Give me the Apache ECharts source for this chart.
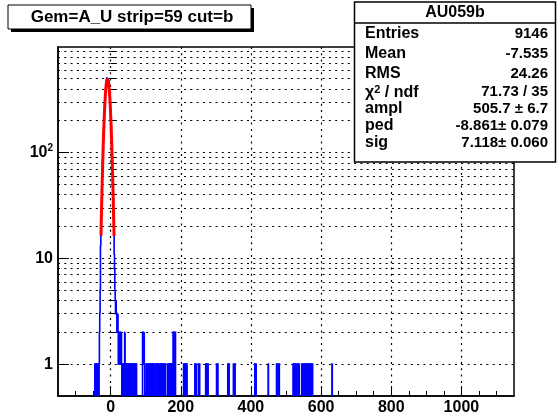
<!DOCTYPE html>
<html><head><meta charset="utf-8">
<script src="https://cdn.jsdelivr.net/npm/echarts@6/dist/echarts.min.js"></script>
<style>html,body{margin:0;padding:0;background:#fff}#c{width:558px;height:417px}</style>
</head><body><div id="c"></div>
<script>
// ---------- data ----------
const histTitle = 'Gem=A_U strip=59 cut=b';
const statsName = 'AU059b';
const statsLabels = ['Entries', 'Mean', 'RMS', 'chi2ndf', 'ampl', 'ped', 'sig'];
const statsValues = ['9146', '-7.535', '24.26', '71.73 / 35', '505.7 \u00b1 6.7', '-8.861\u00b1 0.079', '7.118\u00b1 0.060'];
const fitAmpl = 505.7, fitPed = -8.861, fitSig = 7.118;
const fitRange = [-27.5, 9.8];
const xRange = [-150, 1150];
const yRange = [0.5, 994];
const binWidth = 1;
const xMajorTicks = [0, 200, 400, 600, 800, 1000];
const xMinorTicks = [-100, -50, 50, 100, 150, 250, 300, 350, 450, 500, 550, 650, 700, 750, 850, 900, 950, 1050, 1100];
const yMajorTicks = [1, 10, 100];
const yMinorTicks = [2, 3, 4, 5, 6, 7, 8, 9, 20, 30, 40, 50, 60, 70, 80, 90, 200, 300, 400, 500, 600, 700, 800, 900];
// peak region: counts for consecutive bins starting at low edge -45
const peakStart = -45;
const peakCounts = [1, 0, 1, 1, 0, 1, 0, 1, 1, 0, 1, 0, 1, 2, 3, 5, 13, 16, 24, 31, 47, 58, 83, 101, 136, 161, 205, 238, 290, 322,
  374, 402, 448, 466, 497, 509, 501, 492, 484, 447, 424, 376, 344, 291, 258, 209, 179, 138, 115, 84, 68, 47, 38, 24, 19, 11, 8, 5, 4, 3,
  4, 3, 3, 2, 3, 3, 2, 1, 2, 2, 1, 2, 1, 2, 1, 2];
// sparse tail bins (low edge) and their counts
const tailEdges = [31, 33, 34, 36, 38, 40, 41, 43, 45, 46, 48, 50, 52, 53, 55, 57, 59, 60, 62, 64, 66, 67, 69, 71, 73,
  91, 92, 93, 94, 95, 96,
  101, 103, 105, 108, 110, 112, 114, 116, 118, 120, 122, 124, 129, 131, 133, 135, 140, 142, 144, 146, 148, 150, 152, 154, 156,
  163, 165, 167, 169, 171, 173, 175, 178, 180, 182, 184,
  208, 211, 214, 217, 240, 243, 250, 253, 271, 274, 277, 302, 305, 334, 337, 350, 354,
  411, 414, 449, 473, 477, 480, 520, 523, 526, 530, 534, 537,
  545, 548, 551, 554, 557, 560, 563, 566, 569, 572, 575, 631];
const tailCounts = [1, 1, 1, 1, 1, 2, 1, 1, 1, 1, 1, 1, 1, 1, 1, 1, 1, 1, 1, 1, 1, 1, 1, 1, 1,
  2, 2, 1, 2, 2, 1,
  1, 1, 1, 1, 1, 1, 1, 1, 1, 1, 1, 1, 1, 1, 1, 1, 1, 1, 1, 1, 1, 1, 1, 1, 1,
  1, 1, 1, 1, 1, 1, 1, 2, 2, 1, 2,
  1, 1, 1, 1, 1, 1, 1, 1, 1, 1, 1, 1, 1, 1, 1, 1, 1,
  1, 1, 1, 1, 1, 1, 1, 1, 1, 1, 1, 1,
  1, 1, 1, 1, 1, 1, 1, 1, 1, 1, 1, 1];

// ---------- build ----------
const countMap = new Map();
peakCounts.forEach((c, i) => { if (c > 0) countMap.set(peakStart + i * binWidth, c); });
tailEdges.forEach((e, i) => countMap.set(e, tailCounts[i]));
const histData = Array.from(countMap.entries()).sort((a, b) => a[0] - b[0]);

const fitData = [];
const nFit = 100;
for (let i = 0; i <= nFit; i++) {
  const x = fitRange[0] + (fitRange[1] - fitRange[0]) * i / nFit;
  fitData.push([x, fitAmpl * Math.exp(-0.5 * Math.pow((x - fitPed) / fitSig, 2))]);
}

const FONT = '"Liberation Sans", Arial, Helvetica, sans-serif';
const dotted = { color: '#000', width: 1.2, type: [2, 4.3] };

function renderHist(params, api) {
  const e = api.value(0), c = api.value(1);
  const cs = params.coordSys;
  const yBot = cs.y + cs.height;
  const p0 = api.coord([e, c]);
  const p1 = api.coord([e + binWidth, c]);
  const prev = countMap.get(e - binWidth) || 0;
  const next = countMap.get(e + binWidth) || 0;
  const yPrev = prev > 0 ? api.coord([e, prev])[1] : yBot;
  const pts = [[p0[0], yPrev], [p0[0], p0[1]], [p1[0], p1[1]]];
  if (next === 0) pts.push([p1[0], yBot]);
  return { type: 'polyline', shape: { points: pts }, style: { stroke: '#0000ff', fill: null, lineWidth: 1.6 } };
}

const chart = echarts.init(document.getElementById('c'));
const rowY = [35, 55, 75, 93, 110, 127, 144];
const statsGraphics = [];
statsLabels.forEach((lab, i) => {
  const isChi = lab === 'chi2ndf';
  statsGraphics.push({
    type: 'text', left: 365, top: rowY[i] - 9, z: 102,
    style: isChi ? {
      text: '{g|\u03c7}{s|2}{b| / ndf}',
      rich: { g: { font: 'bold 16px ' + FONT, fill: '#000' }, s: { font: 'bold 11px ' + FONT, fill: '#000', verticalAlign: 'top', padding: [0, 0, 6, 0] }, b: { font: 'bold 16px ' + FONT, fill: '#000' } },
      font: 'bold 16px ' + FONT
    } : { text: lab, font: 'bold 16px ' + FONT, fill: '#000' }
  });
  statsGraphics.push({
    type: 'text', right: 558 - 548, top: rowY[i] - 9, z: 102,
    style: { text: statsValues[i], font: 'bold 15px ' + FONT, fill: '#000', textAlign: 'right' }
  });
});

chart.setOption({
  animation: false,
  backgroundColor: '#fff',
  grid: { left: 58, top: 47, right: 44, bottom: 21, show: true, borderColor: '#000', borderWidth: 1.5, backgroundColor: 'transparent' },
  xAxis: [{
    type: 'value', min: xRange[0], max: xRange[1], position: 'bottom',
    axisLine: { show: true, onZero: false, lineStyle: { color: '#000', width: 1.5 } },
    axisTick: { show: true, inside: true, length: 10, customValues: xMajorTicks, lineStyle: { color: '#000', width: 1 } },
    axisLabel: { show: true, customValues: xMajorTicks, margin: 4, color: '#000', fontFamily: FONT, fontWeight: 'bold', fontSize: 16, formatter: v => String(v) },
    splitLine: { show: true, lineStyle: dotted }
  }, {
    type: 'value', min: xRange[0], max: xRange[1], position: 'bottom',
    axisLine: { show: false },
    axisTick: { show: true, inside: true, length: 5, customValues: xMinorTicks, lineStyle: { color: '#000', width: 1 } },
    axisLabel: { show: false },
    splitLine: { show: false }
  }],
  yAxis: [{
    type: 'log', logBase: 10, min: yRange[0], max: yRange[1], position: 'left',
    axisLine: { show: true, onZero: false, lineStyle: { color: '#000', width: 1.5 } },
    axisTick: { show: true, inside: true, length: 11, customValues: yMajorTicks, lineStyle: { color: '#000', width: 1 } },
    axisLabel: {
      show: true, customValues: yMajorTicks, margin: 5, color: '#000', fontFamily: FONT, fontWeight: 'bold', fontSize: 16,
      formatter: v => v >= 100 ? '{b|' + String(v).slice(0, 2) + '}{s|' + Math.round(Math.log10(v)) + '}' : String(v),
      rich: { b: { fontFamily: FONT, fontWeight: 'bold', fontSize: 16, color: '#000' }, s: { fontFamily: FONT, fontWeight: 'bold', fontSize: 10, color: '#000', verticalAlign: 'top', padding: [0, 0, 8, 0] } }
    },
    splitLine: { show: true, lineStyle: dotted }
  }, {
    type: 'log', logBase: 10, min: yRange[0], max: yRange[1], position: 'left',
    axisLine: { show: false },
    axisTick: { show: true, inside: true, length: 6, customValues: yMinorTicks, lineStyle: { color: '#000', width: 1 } },
    axisLabel: { show: false },
    splitLine: { show: true, lineStyle: dotted }
  }],
  series: [{
    type: 'custom', xAxisIndex: 0, yAxisIndex: 0, renderItem: renderHist, data: histData, clip: true, z: 3,
    encode: { x: 0, y: 1 }
  }, {
    type: 'line', xAxisIndex: 0, yAxisIndex: 0, data: fitData, showSymbol: false, symbol: 'none', smooth: false,
    lineStyle: { color: '#ff0000', width: 3 }, z: 4
  }],
  graphic: [
    { type: 'rect', shape: { x: 11, y: 8, width: 243, height: 24 }, style: { fill: '#000' }, z: 100 },
    { type: 'rect', shape: { x: 8, y: 5, width: 243, height: 24 }, style: { fill: '#fff', stroke: '#000', lineWidth: 1 }, z: 101 },
    { type: 'text', x: 132, y: 17.5, z: 102, style: { text: histTitle, font: 'bold 17px ' + FONT, fill: '#000', textAlign: 'center', textVerticalAlign: 'middle' } },
    { type: 'rect', shape: { x: 354.5, y: 2, width: 201, height: 160 }, style: { fill: '#fff', stroke: '#000', lineWidth: 1.5 }, z: 101 },
    { type: 'line', shape: { x1: 354.5, y1: 23, x2: 555.5, y2: 23 }, style: { stroke: '#000', lineWidth: 1.5 }, z: 102 },
    { type: 'text', x: 455, y: 12.5, z: 102, style: { text: statsName, font: 'bold 16px ' + FONT, fill: '#000', textAlign: 'center', textVerticalAlign: 'middle' } }
  ].concat(statsGraphics)
});
</script></body></html>
